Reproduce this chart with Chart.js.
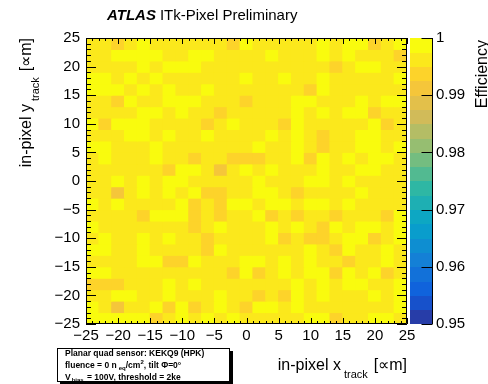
<!DOCTYPE html>
<html><head><meta charset="utf-8">
<script src="https://cdn.jsdelivr.net/npm/chart.js@4/dist/chart.umd.min.js"></script>
<style>html,body{margin:0;padding:0;background:#fff;}canvas{display:block;}</style>
</head><body>
<canvas id="c" width="488" height="384"></canvas>
<script>
// ---- data ----
const xCenters = [-24,-22,-20,-18,-16,-14,-12,-10,-8,-6,-4,-2,0,2,4,6,8,10,12,14,16,18,20,22,24];
const yCenters = [24,22,20,18,16,14,12,10,8,6,4,2,0,-2,-4,-6,-8,-10,-12,-14,-16,-18,-20,-22,-24];
const xTicks = [-25,-20,-15,-10,-5,0,5,10,15,20,25];
const yTicks = [-25,-20,-15,-10,-5,0,5,10,15,20,25];
const zTicks = [0.95,0.96,0.97,0.98,0.99,1];
// efficiency per bin, rows from top (y=24) to bottom (y=-24), columns x=-24..24
const efficiency = [
[.996,.996,.994,.996,.999,.996,.996,.996,.996,.996,.996,.994,.999,.996,.996,.996,.996,.996,.999,.996,.999,.999,.994,.996,.999],
[.996,.996,.999,.999,.999,.999,.996,.996,.999,.999,.996,.996,.996,.996,.999,.996,.996,.996,.999,.996,.999,.996,.996,.996,.994],
[.996,.996,.996,.996,.999,.996,.999,.999,.999,.996,.996,.996,.996,.996,.996,.996,.996,.996,.996,.994,.996,.999,.999,.996,.996],
[.999,.999,.996,.999,.996,.999,.996,.996,.996,.996,.996,.996,.999,.996,.996,.999,.996,.996,.999,.996,.996,.996,.996,.996,.999],
[.999,.999,.999,.996,.999,.996,.999,.996,.996,.999,.996,.996,.996,.996,.996,.996,.996,.994,.999,.996,.996,.996,.996,.996,.996],
[.996,.996,.994,.999,.996,.996,.999,.999,.999,.996,.996,.996,.994,.996,.996,.996,.999,.999,.996,.996,.996,.999,.996,.999,.999],
[.996,.996,.996,.996,.999,.999,.996,.999,.996,.996,.994,.996,.996,.996,.996,.996,.999,.996,.999,.996,.999,.999,.994,.996,.996],
[.999,.994,.999,.999,.999,.996,.996,.996,.996,.994,.996,.999,.996,.996,.996,.994,.999,.996,.996,.996,.996,.996,.999,.994,.996],
[.996,.996,.996,.999,.999,.996,.999,.996,.996,.999,.996,.996,.996,.996,.999,.996,.999,.996,.994,.996,.996,.999,.999,.996,.996],
[.999,.999,.996,.996,.996,.999,.996,.996,.996,.996,.996,.996,.996,.999,.996,.996,.999,.996,.994,.996,.996,.999,.999,.996,.999],
[.996,.999,.996,.996,.996,.999,.996,.996,.994,.996,.996,.994,.994,.994,.996,.996,.999,.994,.999,.996,.999,.996,.999,.999,.996],
[.996,.996,.996,.996,.996,.996,.994,.999,.999,.996,.991,.996,.999,.996,.999,.996,.996,.996,.999,.996,.996,.999,.999,.996,.996],
[.996,.996,.999,.996,.999,.996,.999,.999,.996,.996,.996,.996,.996,.999,.996,.996,.996,.999,.999,.996,.999,.996,.996,.996,.996],
[.996,.996,.991,.996,.999,.996,.999,.996,.999,.994,.994,.996,.996,.999,.999,.996,.994,.996,.996,.996,.996,.999,.996,.996,.996],
[.999,.996,.999,.996,.996,.996,.996,.999,.994,.996,.994,.999,.999,.996,.999,.999,.996,.999,.999,.996,.999,.996,.996,.996,.996],
[.996,.996,.996,.996,.994,.999,.999,.999,.994,.996,.994,.996,.996,.999,.994,.996,.994,.996,.996,.994,.996,.996,.996,.994,.999],
[.999,.996,.996,.996,.996,.996,.996,.996,.994,.996,.999,.996,.996,.996,.999,.996,.999,.996,.994,.999,.996,.999,.999,.996,.999],
[.996,.999,.996,.996,.999,.996,.999,.996,.996,.994,.996,.996,.996,.996,.999,.994,.996,.994,.994,.996,.999,.999,.994,.996,.999],
[.999,.999,.996,.996,.999,.996,.996,.996,.996,.994,.999,.996,.996,.996,.996,.996,.996,.999,.996,.994,.999,.996,.996,.999,.996],
[.996,.996,.996,.996,.999,.999,.994,.994,.999,.996,.996,.996,.999,.999,.996,.999,.996,.999,.996,.996,.994,.996,.996,.999,.996],
[.999,.999,.996,.996,.996,.996,.996,.996,.996,.996,.996,.994,.999,.994,.996,.999,.996,.999,.999,.994,.999,.996,.999,.994,.996],
[.994,.994,.994,.996,.996,.996,.999,.996,.999,.996,.996,.996,.996,.996,.996,.996,.999,.996,.999,.996,.999,.999,.996,.996,.999],
[.996,.996,.999,.999,.996,.996,.999,.996,.996,.996,.999,.996,.996,.994,.996,.994,.999,.996,.999,.996,.996,.996,.999,.996,.999],
[.999,.996,.991,.996,.996,.999,.994,.999,.994,.996,.999,.996,.994,.999,.999,.996,.999,.996,.996,.996,.996,.996,.996,.996,.999],
[.999,.999,.999,.999,.999,.994,.996,.999,.996,.999,.996,.999,.996,.996,.996,.996,.996,.999,.999,.994,.996,.996,.999,.999,.996]
];
const binWidth = 2;
const zMin = 0.95, zMax = 1.0, nContours = 20;

// ---- palette (ROOT kBird) ----
const birdStops = [0,0.125,0.25,0.375,0.5,0.625,0.75,0.875,1];
const birdR = [0.2082,0.0592,0.0780,0.0232,0.1802,0.5301,0.8186,0.9956,0.9764];
const birdG = [0.1664,0.3599,0.5041,0.6419,0.7178,0.7492,0.7328,0.7862,0.9832];
const birdB = [0.5293,0.8684,0.8385,0.7914,0.6425,0.4662,0.3499,0.1968,0.0539];
function bird(t){
  t = Math.max(0, Math.min(1, t));
  let i = 0;
  while (i < birdStops.length - 2 && t > birdStops[i+1]) i++;
  const f = (t - birdStops[i]) / (birdStops[i+1] - birdStops[i]);
  const c = a => Math.round(255 * (a[i] + (a[i+1] - a[i]) * f));
  return 'rgb(' + c(birdR) + ',' + c(birdG) + ',' + c(birdB) + ')';
}
function bandColor(k){ return bird(Math.floor((k + 0.99) * 255 / nContours) / 254); }
function colorFor(v){
  let k = Math.floor((v - zMin) / (zMax - zMin) * nContours);
  k = Math.max(0, Math.min(nContours - 1, k));
  return bandColor(k);
}
const minusFmt = v => (v < 0 ? '\u2212' + Math.abs(v) : String(v));

const FONT = '"Liberation Sans", Arial, Helvetica, sans-serif';
function fontStr(p){ return (p.italic ? 'italic ' : '') + (p.bold ? 'bold ' : '') + p.size + 'px ' + FONT; }
function drawRich(ctx, parts, x, y, align){
  let total = 0;
  const widths = parts.map(p => { ctx.font = fontStr(p); const w = ctx.measureText(p.t).width; total += w + (p.gap || 0); return w; });
  let cx = align === 'right' ? x - total : x;
  ctx.textAlign = 'left'; ctx.textBaseline = 'alphabetic';
  parts.forEach((p, i) => { cx += (p.gap || 0); ctx.font = fontStr(p); ctx.fillText(p.t, cx, y + (p.dy || 0)); cx += widths[i]; });
}

const datasets = yCenters.map((yc, j) => ({
  data: xCenters.map(xc => ({ x: xc, y: [yc - binWidth / 2, yc + binWidth / 2] })),
  backgroundColor: efficiency[j].map(colorFor),
  borderWidth: 0,
  grouped: false,
  barPercentage: 1,
  categoryPercentage: 1,
  inflateAmount: 0.5,
  xAxisID: 'x', yAxisID: 'y'
}));

const decor = {
  id: 'decor',
  afterDraw(chart){
    const ctx = chart.ctx;
    const { left, right, top, bottom } = chart.chartArea;
    const sx = chart.scales.x, sy = chart.scales.y, sz = chart.scales.yc;
    ctx.save();
    // colour bar
    const cbL = 410, cbR = 432;
    for (let k = 0; k < nContours; k++){
      const lo = zMin + k * (zMax - zMin) / nContours, hi = zMin + (k + 1) * (zMax - zMin) / nContours;
      const y1 = sz.getPixelForValue(hi), y0 = sz.getPixelForValue(lo);
      ctx.fillStyle = bandColor(k);
      ctx.fillRect(cbL, Math.floor(y1), cbR - cbL, Math.ceil(y0) - Math.floor(y1));
    }
    ctx.strokeStyle = '#000'; ctx.lineWidth = 1;
    ctx.beginPath();
    ctx.moveTo(cbR + 0.5, top); ctx.lineTo(cbR + 0.5, bottom);
    zTicks.forEach(v => {
      const py = Math.round(sz.getPixelForValue(v)) + 0.5;
      ctx.moveTo(cbR + 0.5, py); ctx.lineTo(cbR - 10.5, py);
    });
    ctx.stroke();
    // frame
    ctx.beginPath();
    ctx.rect(left + 0.5, top + 0.5, right - left - 1, bottom - top - 1);
    // x ticks (inward, bottom and top)
    for (let v = xTicks[0]; v <= xTicks[xTicks.length - 1]; v++){
      const px = Math.round(sx.getPixelForValue(v)) + 0.5;
      const len = (v % 5 === 0) ? 6 : 3;
      ctx.moveTo(px, bottom); ctx.lineTo(px, bottom - len);
      ctx.moveTo(px, top); ctx.lineTo(px, top + len);
    }
    for (let v = yTicks[0]; v <= yTicks[yTicks.length - 1]; v++){
      const py = Math.round(sy.getPixelForValue(v)) + 0.5;
      const len = (v % 5 === 0) ? 10 : 5;
      ctx.moveTo(left, py); ctx.lineTo(left + len, py);
      ctx.moveTo(right, py); ctx.lineTo(right - len, py);
    }
    ctx.stroke();

    ctx.fillStyle = '#000';
    // x title
    drawRich(ctx, [
      { t: 'in-pixel x', size: 16 },
      { t: 'track', size: 11, dy: 8, gap: 3 },
      { t: '[\u221Dm]', size: 16, gap: 6 }
    ], right, 370, 'right');
    // y title
    ctx.save();
    ctx.translate(31, top); ctx.rotate(-Math.PI / 2);
    drawRich(ctx, [
      { t: 'in-pixel y', size: 16 },
      { t: 'track', size: 11, dy: 8, gap: 3 },
      { t: '[\u221Dm]', size: 16, gap: 6 }
    ], 0, 0, 'right');
    ctx.restore();
    // z title
    ctx.save();
    ctx.translate(487, top + 2); ctx.rotate(-Math.PI / 2);
    drawRich(ctx, [{ t: 'Efficiency', size: 16 }], 0, 0, 'right');
    ctx.restore();
    // ATLAS label
    drawRich(ctx, [
      { t: 'ATLAS', size: 15, bold: true, italic: true },
      { t: 'ITk-Pixel Preliminary', size: 15, gap: 4 }
    ], 107, 20, 'left');
    // info box
    ctx.fillStyle = '#000';
    ctx.fillRect(60, 351, 173, 34);
    ctx.fillStyle = '#fff';
    ctx.fillRect(57, 348, 173, 34);
    ctx.strokeRect(57.5, 348.5, 172, 33);
    ctx.fillStyle = '#000';
    drawRich(ctx, [{ t: 'Planar quad sensor: KEKQ9 (HPK)', size: 8.5, bold: true }], 65, 356, 'left');
    drawRich(ctx, [
      { t: 'fluence = 0 n', size: 8.5, bold: true },
      { t: 'eq', size: 6, bold: true, dy: 2, gap: 2 },
      { t: '/cm', size: 8.5, bold: true },
      { t: '2', size: 6, bold: true, dy: -4 },
      { t: ', tilt \u03A6=0\u00B0', size: 8.5, bold: true }
    ], 65, 368, 'left');
    drawRich(ctx, [
      { t: 'V', size: 8.5, bold: true },
      { t: 'bias', size: 6, bold: true, dy: 2, gap: 1 },
      { t: ' = 100V, threshold = 2ke', size: 8.5, bold: true, gap: 1 }
    ], 65, 380, 'left');
    ctx.restore();
  }
};

new Chart(document.getElementById('c'), {
  type: 'bar',
  data: { datasets },
  options: {
    responsive: false,
    devicePixelRatio: 1,
    animation: false,
    layout: { padding: { top: 25, left: 0, right: 0, bottom: 0 } },
    plugins: { legend: { display: false }, tooltip: { enabled: false } },
    scales: {
      x: {
        type: 'linear', min: xTicks[0], max: xTicks[xTicks.length - 1], offset: false,
        grid: { display: false, drawTicks: false }, border: { display: false },
        afterFit: s => { s.height = 60; },
        afterBuildTicks: s => { s.ticks = xTicks.map(v => ({ value: v })); },
        ticks: { autoSkip: false, maxRotation: 0, padding: 3, color: '#000',
          font: { family: FONT, size: 15 }, callback: v => minusFmt(v) }
      },
      y: {
        type: 'linear', position: 'left', min: yTicks[0], max: yTicks[yTicks.length - 1],
        grid: { display: false, drawTicks: false }, border: { display: false },
        afterFit: s => { s.width = 86; },
        afterBuildTicks: s => { s.ticks = yTicks.map(v => ({ value: v })); },
        ticks: { autoSkip: false, padding: 6, color: '#000',
          font: { family: FONT, size: 15 }, callback: v => minusFmt(v) }
      },
      yc: {
        type: 'linear', position: 'right', min: zMin, max: zMax,
        grid: { display: false, drawTicks: false }, border: { display: false },
        afterFit: s => { s.width = 81; },
        afterBuildTicks: s => { s.ticks = zTicks.map(v => ({ value: v })); },
        ticks: { autoSkip: false, padding: 29, color: '#000',
          font: { family: FONT, size: 15 }, callback: v => String(Math.round(v * 100) / 100) }
      }
    }
  },
  plugins: [decor]
});
</script>
</body></html>
